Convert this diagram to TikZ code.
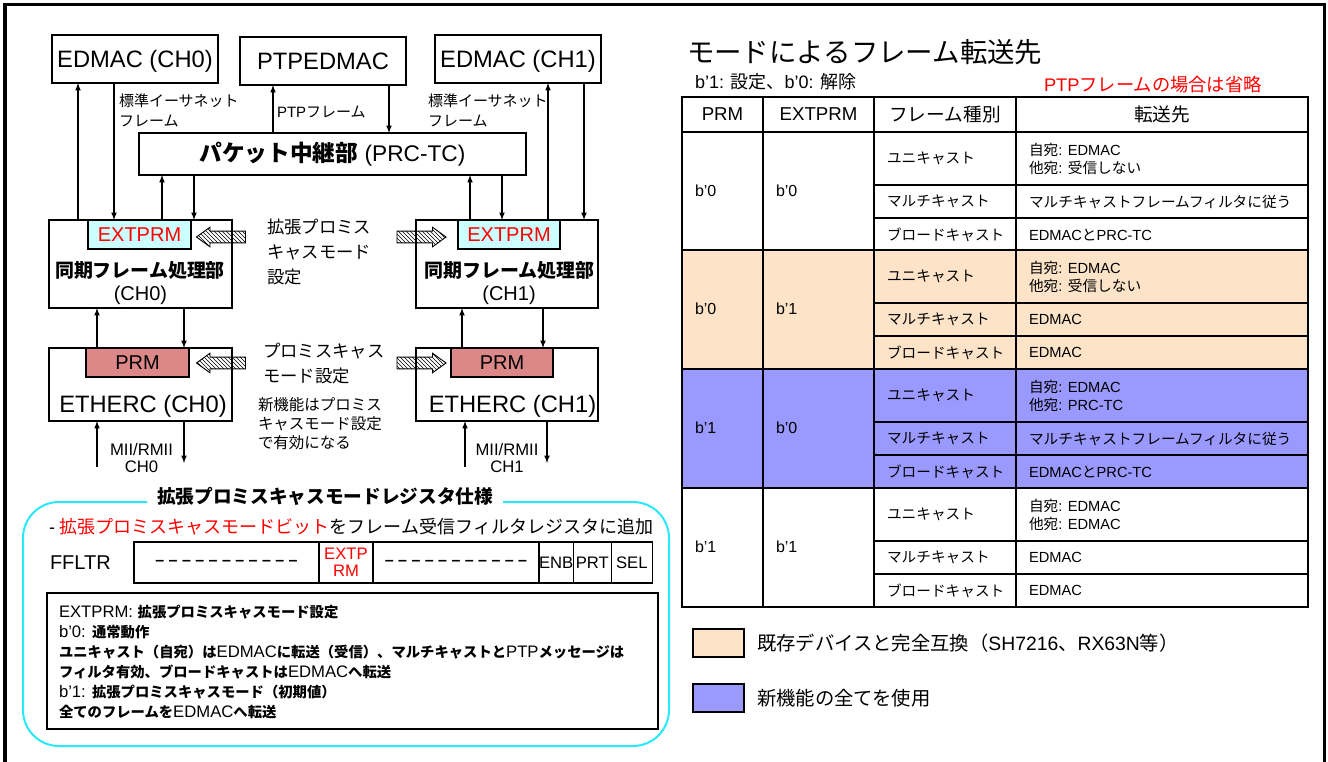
\documentclass[tikz,border=0pt]{standalone}
\usepackage{fontspec}
\setmainfont{Liberation Sans}
\newfontfamily\jpfont{Noto Sans CJK JP}
\newfontfamily\jpsmallfont{Noto Sans CJK JP}[Scale=0.86]
\newcommand{\jp}[1]{{\jpfont #1}}
\newcommand{\jps}[1]{{\jpsmallfont #1}}
\usetikzlibrary{arrows,positioning,shapes.arrows,patterns}

\definecolor{peach}{RGB}{253,228,200}
\definecolor{newblue}{RGB}{153,153,255}
\definecolor{rose}{RGB}{220,136,136}
\definecolor{icecyan}{RGB}{204,255,255}
\definecolor{rimcyan}{RGB}{40,232,250}

\begin{document}
\begin{tikzpicture}[
            x = 0.75pt, y = -0.75pt, % one unit is one pixel, y grows downwards
            > = latex, % arrow head style
            line width = 0.9pt, % line style
            box/.style 2 args = {draw, minimum width = #1*0.75pt, minimum height = #2*0.75pt, inner sep = 0pt, outer sep = 0pt},
            hatch/.style = {single arrow, draw, line width = 0.7pt, pattern = north west lines,
                inner xsep = 0pt, inner ysep = 4pt, minimum height = 49*0.75pt,
                single arrow head extend = 3pt, single arrow tip angle = 72},
            txt/.style = {inner sep = 0pt, outer sep = 0pt},
            bigtxt/.style = {txt, font = \fontsize{17.8}{21}\selectfont, text height = 12.8pt, text depth = 0pt},
            reg/.style = {txt, font = \fontsize{15}{18}\selectfont},
            lbl/.style = {txt, font = \fontsize{11.25}{15}\selectfont, align = left, anchor = west},
            mii/.style = {txt, font = \fontsize{12.5}{12.75}\selectfont, align = center},
            note/.style = {txt, font = \fontsize{13}{18.75}\selectfont, align = left, anchor = west},
            hdr/.style = {txt, font = \fontsize{14}{16}\selectfont},
            val/.style = {txt, font = \fontsize{12}{14}\selectfont, anchor = west},
            cell/.style = {txt, font = \fontsize{11}{13.5}\selectfont, align = left, anchor = west},
            legend/.style = {txt, font = \fontsize{14.5}{17}\selectfont},
            fld/.style = {box = {#1}{41}, font = \fontsize{12.5}{12.75}\selectfont, align = center}
        ]

    \useasboundingbox (0,0) rectangle (1328,761);
    \draw[line width = 2.5pt] (5,800) -- (5,4.5) -- (1324.5,4.5) -- (1324.5,800);

    % block diagram
    \node[box={166}{48}, bigtxt] (edmac0) at (135,59) {EDMAC (CH0)};
    \node[box={166}{48}, bigtxt] (ptpdmac) at (323,61) {PTPEDMAC};
    \node[box={166}{48}, bigtxt] (edmac1) at (518,59) {EDMAC (CH1)};
    \node[box={387}{42}, font = \fontsize{17}{20}\selectfont] (prc) at (332.5,154) {\textbf{\jp{パケット中継部}} (PRC-TC)};

    \node[box={183}{88}] (sync0) at (140.5,264) {};
    \node[box={103}{29}, fill = icecyan, reg, text = red] (ext0) at (139.5,234.5) {EXTPRM};
    \node[txt, font = \fontsize{14.2}{17}\selectfont] (sync0name) at (140,270) {\textbf{\jp{同期フレーム処理部}}};
    \node[reg] (sync0ch) at (140.5,295) {(CH0)};

    \node[box={182}{88}] (sync1) at (507,264) {};
    \node[box={102}{29}, fill = icecyan, reg, text = red] (ext1) at (509,234.5) {EXTPRM};
    \node[txt, font = \fontsize{14.2}{17}\selectfont] (sync1name) at (509.5,270) {\textbf{\jp{同期フレーム処理部}}};
    \node[reg] (sync1ch) at (509,295) {(CH1)};

    \node[box={183}{73}] (eth0) at (140.5,384.5) {};
    \node[box={103}{29}, fill = rose, reg] (prm0) at (137.5,362.5) {PRM};
    \node[bigtxt] (eth0name) at (143,404) {ETHERC (CH0)};

    \node[box={182}{73}] (eth1) at (507,384.5) {};
    \node[box={102}{29}, fill = rose, reg] (prm1) at (502,362.5) {PRM};
    \node[bigtxt] (eth1name) at (512.5,404) {ETHERC (CH1)};

    \coordinate (mii0up) at (97,467);
    \coordinate (mii0dn) at (184,463);
    \coordinate (mii1up) at (465,467);
    \coordinate (mii1dn) at (547,463);

    \draw[-latex] (sync0.north -| 78,0) -- (edmac0.south -| 78,0);
    \draw[-latex] (edmac0.south -| 114,0) -- (sync0.north -| 114,0);
    \draw[-latex] (prc.north -| 273,0) -- (ptpdmac.south -| 273,0);
    \draw[-latex] (ptpdmac.south -| 389,0) -- (prc.north -| 389,0);
    \draw[-latex] (sync1.north -| 548,0) -- (edmac1.south -| 548,0);
    \draw[-latex] (edmac1.south -| 584,0) -- (sync1.north -| 584,0);
    \draw[-latex] (sync0.north -| 162,0) -- (prc.south -| 162,0);
    \draw[-latex] (prc.south -| 194,0) -- (sync0.north -| 194,0);
    \draw[-latex] (sync1.north -| 470,0) -- (prc.south -| 470,0);
    \draw[-latex] (prc.south -| 502,0) -- (sync1.north -| 502,0);
    \draw[-latex] (eth0.north -| 97,0) -- (sync0.south -| 97,0);
    \draw[-latex] (sync0.south -| 184,0) -- (eth0.north -| 184,0);
    \draw[-latex] (eth1.north -| 462,0) -- (sync1.south -| 462,0);
    \draw[-latex] (sync1.south -| 543,0) -- (eth1.north -| 543,0);
    \draw[-latex] (mii0up) -- (eth0.south -| mii0up);
    \draw[-latex] (eth0.south -| mii0dn) -- (mii0dn);
    \draw[-latex] (mii1up) -- (eth1.south -| mii1up);
    \draw[-latex] (eth1.south -| mii1dn) -- (mii1dn);

    \node[hatch, shape border rotate = 180] (hs0) at (225,237) {};
    \node[hatch] (hs1) at (417.5,237) {};
    \node[hatch, shape border rotate = 180] (he0) at (225,363) {};
    \node[hatch] (he1) at (417.5,363) {};

    \node[lbl] (std0) at (119,110) {\jp{標準イーサネット}\\\jp{フレーム}};
    \node[lbl] (ptplbl) at (277,112) {PTP\jp{フレーム}};
    \node[lbl] (std1) at (428,110) {\jp{標準イーサネット}\\\jp{フレーム}};
    \node[mii] (mii0lbl) at (141.5,458) {MII/RMII\\CH0};
    \node[mii] (mii1lbl) at (507,458) {MII/RMII\\CH1};
    \node[note] (extnote) at (267,252) {\jp{拡張プロミス}\\\jp{キャスモード}\\\jp{設定}};
    \node[note] (prmnote) at (263,364) {\jp{プロミスキャス}\\\jp{モード設定}};
    \node[txt, font = \fontsize{11.6}{14.25}\selectfont, align = left, anchor = west] (newnote) at (258,424)
        {\jp{新機能はプロミス}\\\jp{キャスモード設定}\\\jp{で有効になる}};

    % register specification
    \draw[rimcyan, line width = 1.5pt, rounded corners = 27pt] (147,502) -- (23,502) -- (23,746) -- (669,746) -- (669,502) -- (503,502);
    \node[txt, font = \fontsize{14}{17}\selectfont] (spectitle) at (325,496) {\textbf{\jp{拡張プロミスキャスモードレジスタ仕様}}};
    \node[txt, anchor = west, font = \fontsize{13.5}{16}\selectfont] (specline) at (49,527)
        {- {\color{red}\jp{拡張プロミスキャスモードビット}}\jp{をフレーム受信フィルタレジスタに追加}};
    \node[reg, anchor = west] (ffltr) at (50,563) {FFLTR};
    \node[fld = 185] (fdash0) at (226.5,562.5) {\fontsize{12}{14}\selectfont\bfseries – – – – – – – – – – –};
    \node[fld = 54, right = 0pt of fdash0, text = red] (fext) {EXTP\\RM};
    \node[fld = 166, right = 0pt of fext] (fdash1) {\fontsize{12}{14}\selectfont\bfseries – – – – – – – – – – –};
    \node[fld = 34, right = 0pt of fdash1] (fenb) {ENB};
    \node[fld = 38, right = 0pt of fenb] (fprt) {PRT};
    \node[fld = 41, right = 0pt of fprt] (fsel) {SEL};

    \node[box={611}{136}] (desc) at (352.5,661) {};
    \node[txt, anchor = west, align = left, font = \fontsize{12.5}{15}\selectfont] (desctxt) at (59,662)
        {EXTPRM: \textbf{\jps{拡張プロミスキャスモード設定}}\\
         b’0: \textbf{\jps{通常動作}}\\
         \textbf{\jps{ユニキャスト（自宛）は}}EDMAC\textbf{\jps{に転送（受信）、マルチキャストと}}PTP\textbf{\jps{メッセージは}}\\
         \textbf{\jps{フィルタ有効、ブロードキャストは}}EDMAC\textbf{\jps{へ転送}}\\
         b’1: \textbf{\jps{拡張プロミスキャスモード（初期値）}}\\
         \textbf{\jps{全てのフレームを}}EDMAC\textbf{\jps{へ転送}}};

    % transfer table
    \node[txt, anchor = west, font = \fontsize{20.6}{24}\selectfont] (ttitle) at (687,52) {\jp{モードによるフレーム転送先}};
    \node[txt, anchor = west, font = \fontsize{13.5}{16}\selectfont] (tsub) at (695,82) {b’1: \jp{設定、}b’0: \jp{解除}};
    \node[txt, anchor = west, font = \fontsize{13.7}{16}\selectfont, text = red] (tptp) at (1044,85) {PTP\jp{フレームの場合は省略}};

    \fill[peach] (682,250) rectangle (1308,369);
    \fill[newblue] (682,369) rectangle (1308,488);
    \draw (874,185) -- (1308,185);
    \draw (874,218) -- (1308,218);
    \draw (874,303) -- (1308,303);
    \draw (874,336) -- (1308,336);
    \draw (874,422) -- (1308,422);
    \draw (874,455) -- (1308,455);
    \draw (874,541) -- (1308,541);
    \draw (874,574) -- (1308,574);
    \draw[line width = 1.4pt] (682,97) rectangle (1308,607);
    \draw[line width = 1.4pt] (763,97) -- (763,607);
    \draw[line width = 1.4pt] (874,97) -- (874,607);
    \draw[line width = 1.4pt] (1016,97) -- (1016,607);
    \draw[line width = 1.4pt] (682,132) -- (1308,132);
    \draw[line width = 1.4pt] (682,250) -- (1308,250);
    \draw[line width = 1.4pt] (682,369) -- (1308,369);
    \draw[line width = 1.4pt] (682,488) -- (1308,488);

    \node[hdr] (hprm) at (722.5,114.5) {PRM};
    \node[hdr] (hext) at (818.5,114.5) {EXTPRM};
    \node[hdr] (htype) at (945,114.5) {\jp{フレーム種別}};
    \node[hdr] (hdest) at (1162,114.5) {\jp{転送先}};

    \node[val] (p1) at (695,191) {b’0};
    \node[val] (e1) at (776,191) {b’0};
    \node[cell] (u1) at (887,158.5) {\jp{ユニキャスト}};
    \node[cell] (m1) at (887,201.5) {\jp{マルチキャスト}};
    \node[cell] (b1) at (887,234.5) {\jp{ブロードキャスト}};
    \node[cell] (du1) at (1029,158.5) {\jp{自宛}: EDMAC\\\jp{他宛}: \jp{受信しない}};
    \node[cell] (dm1) at (1029,201.5) {\jp{マルチキャストフレームフィルタに従う}};
    \node[cell] (db1) at (1029,234.5) {EDMAC\jp{と}PRC-TC};

    \node[val] (p2) at (695,309) {b’0};
    \node[val] (e2) at (776,309) {b’1};
    \node[cell] (u2) at (887,276.5) {\jp{ユニキャスト}};
    \node[cell] (m2) at (887,319.5) {\jp{マルチキャスト}};
    \node[cell] (b2) at (887,352.5) {\jp{ブロードキャスト}};
    \node[cell] (du2) at (1029,276.5) {\jp{自宛}: EDMAC\\\jp{他宛}: \jp{受信しない}};
    \node[cell] (dm2) at (1029,319.5) {EDMAC};
    \node[cell] (db2) at (1029,352.5) {EDMAC};

    \node[val] (p3) at (695,428) {b’1};
    \node[val] (e3) at (776,428) {b’0};
    \node[cell] (u3) at (887,395.5) {\jp{ユニキャスト}};
    \node[cell] (m3) at (887,438.5) {\jp{マルチキャスト}};
    \node[cell] (b3) at (887,471.5) {\jp{ブロードキャスト}};
    \node[cell] (du3) at (1029,395.5) {\jp{自宛}: EDMAC\\\jp{他宛}: PRC-TC};
    \node[cell] (dm3) at (1029,438.5) {\jp{マルチキャストフレームフィルタに従う}};
    \node[cell] (db3) at (1029,471.5) {EDMAC\jp{と}PRC-TC};

    \node[val] (p4) at (695,547) {b’1};
    \node[val] (e4) at (776,547) {b’1};
    \node[cell] (u4) at (887,514.5) {\jp{ユニキャスト}};
    \node[cell] (m4) at (887,557.5) {\jp{マルチキャスト}};
    \node[cell] (b4) at (887,590.5) {\jp{ブロードキャスト}};
    \node[cell] (du4) at (1029,514.5) {\jp{自宛}: EDMAC\\\jp{他宛}: EDMAC};
    \node[cell] (dm4) at (1029,557.5) {EDMAC};
    \node[cell] (db4) at (1029,590.5) {EDMAC};

    % legend
    \node[box={51}{28}, fill = peach] (keyold) at (718.5,643) {};
    \node[legend, right = 9.75pt of keyold] (keyoldtxt) {\jp{既存デバイスと完全互換（}SH7216\jp{、}RX63N\jp{等）}};
    \node[box={51}{28}, fill = newblue] (keynew) at (718.5,698) {};
    \node[legend, right = 9.75pt of keynew] (keynewtxt) {\jp{新機能の全てを使用}};

\end{tikzpicture}
\end{document}
